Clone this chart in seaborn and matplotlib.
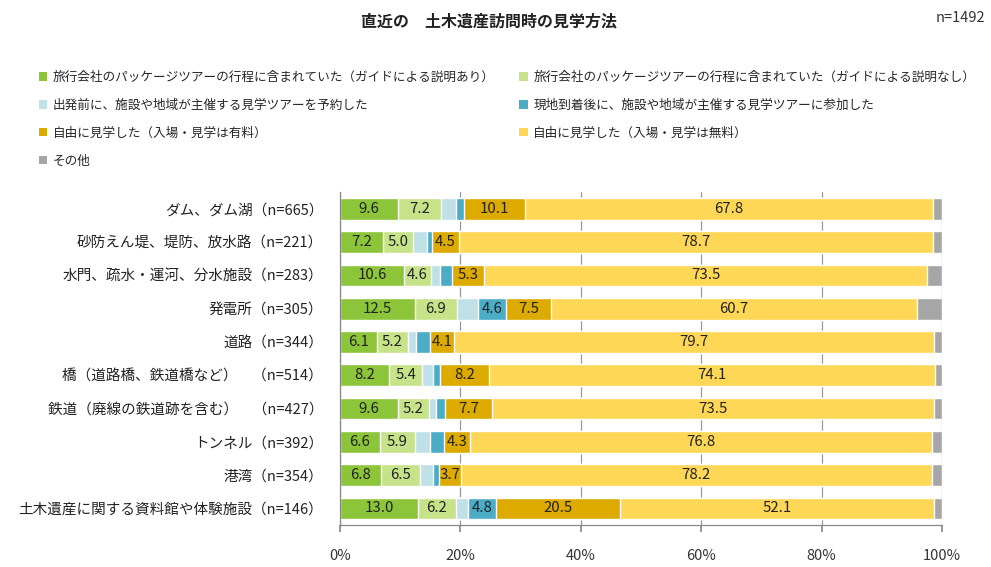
import numpy as np
import pandas as pd
import seaborn as sns
import matplotlib.pyplot as plt
from matplotlib.patches import Patch

# データ（%）
categories = [
    "ダム、ダム湖（n=665）",
    "砂防えん堤、堤防、放水路（n=221）",
    "水門、疏水・運河、分水施設（n=283）",
    "発電所（n=305）",
    "道路（n=344）",
    "橋（道路橋、鉄道橋など）　（n=514）",
    "鉄道（廃線の鉄道跡を含む）　（n=427）",
    "トンネル（n=392）",
    "港湾（n=354）",
    "土木遺産に関する資料館や体験施設（n=146）",
]
series_names = [
    "旅行会社のパッケージツアーの行程に含まれていた（ガイドによる説明あり）",
    "旅行会社のパッケージツアーの行程に含まれていた（ガイドによる説明なし）",
    "出発前に、施設や地域が主催する見学ツアーを予約した",
    "現地到着後に、施設や地域が主催する見学ツアーに参加した",
    "自由に見学した（入場・見学は有料）",
    "自由に見学した（入場・見学は無料）",
    "その他",
]
pkg_guide = [9.6, 7.2, 10.6, 12.5, 6.1, 8.2, 9.6, 6.6, 6.8, 13.0]
pkg_noguide = [7.2, 5.0, 4.6, 6.9, 5.2, 5.4, 5.2, 5.9, 6.5, 6.2]
tour_before = [2.4, 2.2, 1.5, 3.6, 1.3, 1.8, 1.2, 2.5, 2.1, 2.0]
tour_onsite = [1.4, 0.9, 2.0, 4.6, 2.3, 1.2, 1.5, 2.3, 1.0, 4.8]
free_paid = [10.1, 4.5, 5.3, 7.5, 4.1, 8.2, 7.7, 4.3, 3.7, 20.5]
free_free = [67.8, 78.7, 73.5, 60.7, 79.7, 74.1, 73.5, 76.8, 78.2, 52.1]
other = [1.5, 1.5, 2.5, 4.2, 1.3, 1.1, 1.3, 1.6, 1.7, 1.4]

colors = ["#8CC43A", "#C6E38A", "#BEE0E6", "#4BACC6", "#DDAA00", "#FFD757", "#A6A6A6"]

values = [pkg_guide, pkg_noguide, tour_before, tour_onsite, free_paid, free_free, other]
df = pd.DataFrame(np.array(values).T, columns=series_names)
df["category"] = categories
cum = df[series_names].cumsum(axis=1)

sns.set_theme(style="white")
plt.rcParams["font.family"] = ["Noto Sans CJK JP", "DejaVu Sans"]

fig = plt.figure(figsize=(9.91, 5.67), dpi=100)
ax = fig.add_axes([0.343, 0.074, 0.6075, 0.587])

# 積み上げ（累積値を大きい順に重ねる）
for i in range(len(series_names) - 1, -1, -1):
    sns.barplot(x=cum[series_names[i]], y=df["category"], color=colors[i],
                orient="h", width=0.65, ax=ax, saturation=1, zorder=2)

# データラベル
for i in range(6):
    name = series_names[i]
    for j in range(len(categories)):
        v = df[name].iloc[j]
        if v >= 3.65:
            c = cum[name].iloc[j] - v / 2
            ax.text(c, j, f"{v:.1f}", ha="center", va="center",
                    fontsize=10.8, color="#222222", zorder=3)

ax.set_xlim(0, 100)
ax.set_ylim(len(categories) - 0.5, -0.5)
ax.set_xticks(range(0, 101, 20))
ax.set_xticklabels([f"{t}%" for t in range(0, 101, 20)], fontsize=10.5, color="#333333")
ax.set_xlabel("")
ax.set_ylabel("")
ax.tick_params(axis="y", labelsize=10.5, length=0, pad=12, labelcolor="#222222")
ax.set_yticks(np.arange(-0.5, len(categories), 1), minor=True)
ax.tick_params(axis="y", which="minor", length=5, color="#888888", direction="out")
ax.tick_params(axis="x", length=5, color="#888888", direction="out", bottom=True, pad=12)
ax.grid(axis="x", color="#999999", linewidth=0.9)
ax.set_axisbelow(True)
for s in ["top", "right"]:
    ax.spines[s].set_visible(False)
for s in ["left", "bottom"]:
    ax.spines[s].set_color("#888888")
    ax.spines[s].set_linewidth(0.9)

# 凡例
handles = [Patch(facecolor=c, edgecolor="none") for c in colors]
leg_kw = dict(loc="upper left", frameon=False, fontsize=9.1, handlelength=0.65,
              handleheight=0.65, handletextpad=0.45, labelspacing=1.18, borderaxespad=0)
order = [0, 2, 4, 6]
fig.legend([handles[k] for k in order], [series_names[k] for k in order],
           bbox_to_anchor=(0.034, 0.884), **leg_kw)
order2 = [1, 3, 5]
fig.legend([handles[k] for k in order2], [series_names[k] for k in order2],
           bbox_to_anchor=(0.519, 0.884), **leg_kw)

fig.text(0.493, 0.962, "直近の　土木遺産訪問時の見学方法", ha="center", va="center",
         fontsize=11.5, fontweight="bold", color="#222222")
fig.text(0.994, 0.968, "n=1492", ha="right", va="center", fontsize=10.5, color="#333333")

fig.savefig("out.png", dpi=100)
plt.close(fig)
